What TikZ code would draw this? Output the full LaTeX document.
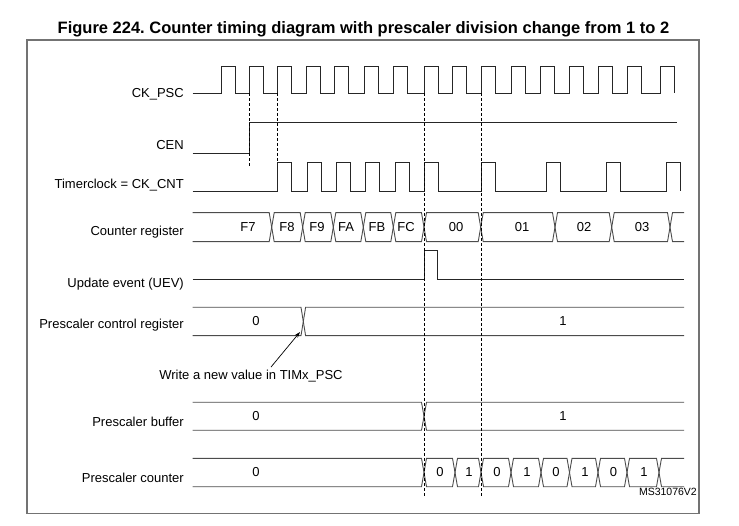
\documentclass[tikz,border=0pt]{standalone}
\usepackage{fontspec}
\setmainfont{Liberation Sans}
\usetikzlibrary{arrows.meta}
\frenchspacing

\begin{document}
\begin{tikzpicture}[x=1pt, y=-1pt, >={Stealth[length=6pt,width=4pt]},
  wave/.style={line width=0.9pt, black!85},
  bus/.style={line width=0.9pt, black!70},
  guide/.style={line width=0.8pt, black, dash pattern=on 3pt off 2pt},
  sig/.style={anchor=base east, inner sep=0pt, font=\fontsize{13}{15}\selectfont},
  val/.style={font=\fontsize{13}{15}\selectfont}]
\useasboundingbox (0,0) rectangle (739,526);

% title and frame
\node[anchor=base, font=\bfseries\fontsize{16.5}{19}\selectfont] (title) at (363.5,33.5) {Figure 224. Counter timing diagram with prescaler division change from 1 to 2};
\draw[line width=1.2pt, black!55] (27,40) rectangle (699,513.3);

% signal names
\node[sig] (ckpsc) at (184,97.3) {CK\_PSC};
\node[sig] (cen) at (184,149.3) {CEN};
\node[sig] (ckcnt) at (184,188.3) {Timerclock = CK\_CNT};
\node[sig] (cntreg) at (184,235.7) {Counter register};
\node[sig] (uev) at (184,287.7) {Update event (UEV)};
\node[sig] (pscctl) at (184,328.3) {Prescaler control register};
\node[sig] (pscbuf) at (184,426) {Prescaler buffer};
\node[sig] (psccnt) at (184,482.3) {Prescaler counter};

% CK_PSC
\draw[wave] (192.7,93) foreach \r in {221,249,277,306,334,364,393,424,452,481,511,540,569,598,627,660}
  {-- (\r,93) -- (\r,66) -- (\r+14.5,66) -- (\r+14.5,93)};

% CEN
\draw[wave] (192.7,153.3) -- (249,153.3) -- (249,122) -- (677,122);

% CK_CNT
\draw[wave] (192.7,191) foreach \r in {277,307,336,365,395,424,481,546,606,666}
  {-- (\r,191) -- (\r,162.7) -- (\r+14.5,162.7) -- (\r+14.5,191)};

% counter register
\draw[bus] (192.7,212.7) -- (269.2,212.7) -- (271.7,227.2) -- (269.2,241.7) -- (192.7,241.7);
\foreach \a/\b in {271.7/302.7, 302.7/333.3, 333.3/363.3, 363.3/393.3, 393.3/424, 424/480.7, 480.7/555, 555/611.7, 611.7/670}
  \draw[bus] (\a,227.2) -- (\a+2.5,212.7) -- (\b-2.5,212.7) -- (\b,227.2) -- (\b-2.5,241.7) -- (\a+2.5,241.7) -- cycle;
\draw[bus] (684,212.7) -- (672.5,212.7) -- (670,227.2) -- (672.5,241.7) -- (684,241.7);
\foreach \x/\v in {248/F7, 287/F8, 317/F9, 346/FA, 377/FB, 406/FC, 456/00, 522/01, 584/02, 642/03}
  \node[val] (cnt\v) at (\x,227.2) {\v};

% UEV
\draw[wave] (192.7,279) -- (424,279) -- (424,250.7) -- (437,250.7) -- (437,279) -- (684,279);

% prescaler control register
\draw[bus] (192.7,307.3) -- (301,307.3) -- (305.6,335.7) -- (684,335.7);
\draw[bus] (192.7,335.7) -- (301,335.7) -- (305.6,307.3) -- (684,307.3);
\node[val] (ctl0) at (256,321.5) {0};
\node[val] (ctl1) at (563,321.5) {1};

\coordinate (wrtpt) at (300,332);
\node[val, anchor=base] (wrt) at (251,380) {Write a new value in TIMx\_PSC};
\draw[->, line width=0.7pt] ([xshift=20pt]wrt.north) -- (wrtpt);

% prescaler buffer
\draw[bus] (192.7,402.3) -- (421.5,402.3) -- (426.5,430.3) -- (684,430.3);
\draw[bus] (192.7,430.3) -- (421.5,430.3) -- (426.5,402.3) -- (684,402.3);
\node[val] (buf0) at (256,416.3) {0};
\node[val] (buf1) at (563,416.3) {1};

% prescaler counter
\draw[bus] (192.7,458.3) -- (421.5,458.3) -- (424,472.5) -- (421.5,486.7) -- (192.7,486.7);
\foreach \a/\b in {424/455, 455/481, 481/511, 511/541, 541/569.5, 569.5/598, 598/627, 627/659}
  \draw[bus] (\a,472.5) -- (\a+2.5,458.3) -- (\b-2.5,458.3) -- (\b,472.5) -- (\b-2.5,486.7) -- (\a+2.5,486.7) -- cycle;
\draw[bus] (684,458.3) -- (661.5,458.3) -- (659,472.5) -- (661.5,486.7) -- (684,486.7);
\node[val] (pc0) at (256,472.5) {0};
\foreach \x/\v [count=\i] in {440/0, 469/1, 497/0, 527/1, 556/0, 585/1, 613.5/0, 644/1}
  \node[val] (pc\i) at (\x,472.5) {\v};

% sync lines
\draw[guide] (249,93) -- (249,166);
\draw[guide] (277,93) -- (277,162.7);
\draw[guide] (424,93) -- (424,497);
\draw[guide] (481,93) -- (481,497);

\node[anchor=base east, inner sep=0pt, font=\fontsize{10.5}{12}\selectfont] (code) at (697,495) {MS31076V2};
\end{tikzpicture}
\end{document}
